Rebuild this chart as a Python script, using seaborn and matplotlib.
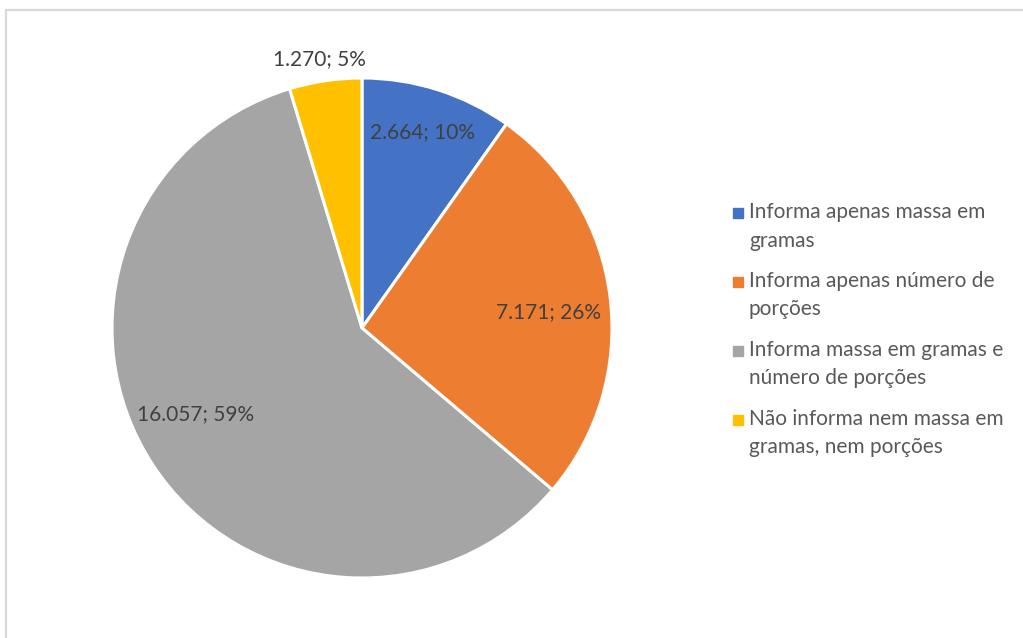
import matplotlib
matplotlib.use("Agg")
import matplotlib.pyplot as plt
from matplotlib.lines import Line2D
from matplotlib.legend_handler import HandlerLine2D
from matplotlib.patches import Rectangle
import numpy as np
import seaborn as sns

categories = [
    "Informa apenas massa em\ngramas",
    "Informa apenas número de\nporções",
    "Informa massa em gramas e\nnúmero de porções",
    "Não informa nem massa em\ngramas, nem porções",
]
values = [2664, 7171, 16057, 1270]
colors = ["#4472C4", "#ED7D31", "#A5A5A5", "#FFC000"]
# placement of each data label: fraction of the radius and angular nudge (deg)
label_radius = [0.82, 0.75, 0.75, 1.09]
label_nudge = [0.4, -2.3, -6.0, 0.5]

sns.set_theme(style="white")
plt.rcParams["font.family"] = ["Lato", "DejaVu Sans"]

W, H = 1023, 638
fig = plt.figure(figsize=(W / 100, H / 100), dpi=100)

# chart-area frame
fig.patches.append(Rectangle((6 / W, -0.05), 1.1, (H - 10) / H + 0.05,
                             transform=fig.transFigure, fill=False,
                             edgecolor="#D9D9D9", linewidth=1.6))

cx, cy, r = 362, H - 328, 250
ax = fig.add_axes([(cx - r) / W, (cy - r) / H, 2 * r / W, 2 * r / H])

wedges, _ = ax.pie(values, colors=colors, startangle=90, counterclock=False,
                   radius=1.0,
                   wedgeprops=dict(edgecolor="white", linewidth=2.2))
ax.set_xlim(-1, 1)
ax.set_ylim(-1, 1)
ax.set_aspect("equal")
ax.axis("off")

total = sum(values)
for w, v, rf, dn in zip(wedges, values, label_radius, label_nudge):
    mid = np.deg2rad((w.theta1 + w.theta2) / 2 + dn)
    pct = round(100 * v / total)
    txt = f"{v:,}".replace(",", ".") + f"; {pct}%"
    ax.text(rf * np.cos(mid), rf * np.sin(mid), txt, ha="center", va="center",
            fontsize=15, color="#404040", clip_on=False)


class FirstLineHandler(HandlerLine2D):
    """Place the legend marker level with the first line of a two-line label."""

    def create_artists(self, *args, **kwargs):
        artists = super().create_artists(*args, **kwargs)
        for a in artists:
            a.set_ydata(np.asarray(a.get_ydata()) + 10.0)
        return artists


handles = [Line2D([], [], marker="s", linestyle="none", markersize=7,
                  markerfacecolor=c, markeredgecolor=c) for c in colors]
leg = fig.legend(handles, categories, loc="upper left",
                 bbox_to_anchor=(724 / W, 1 - 194 / H), frameon=False,
                 fontsize=15, labelcolor="#595959", handlelength=0.5,
                 handletextpad=0.3, labelspacing=0.98, borderaxespad=0,
                 handler_map={Line2D: FirstLineHandler()})
for t in leg.get_texts():
    t.set_linespacing(1.52)

fig.savefig("out.png", dpi=100)
